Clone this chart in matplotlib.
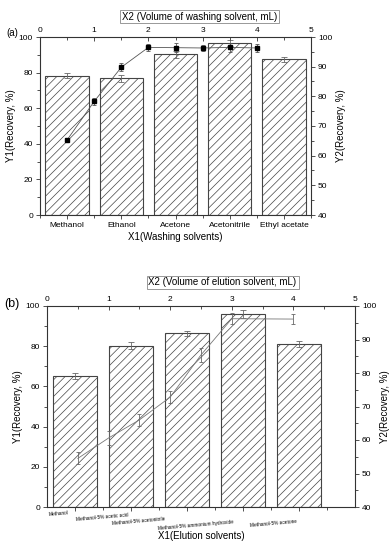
import matplotlib
matplotlib.use('Agg')
import matplotlib.pyplot as plt
from matplotlib.ticker import MultipleLocator
import numpy as np

plt.rcParams['font.family'] = ['Liberation Sans', 'DejaVu Sans']
plt.rcParams['hatch.linewidth'] = 0.5

# panel (a) data
solvents_a = ['Methanol', 'Ethanol', 'Acetone', 'Acetonitrile', 'Ethyl acetate']
y1_a = [78.3, 76.8, 90.2, 96.7, 87.5]
y1_err_a = [1.5, 1.8, 1.8, 1.6, 1.5]
x2_a = [0.5, 1.0, 1.5, 2.0, 2.5, 3.0, 3.5, 4.0]
y2_a = [65.3, 78.3, 89.8, 96.5, 96.4, 96.3, 96.5, 96.3]
y2_err_a = [0.4, 1.2, 1.3, 1.3, 1.5, 1.0, 1.5, 1.3]

# panel (b) data
solvents_b = ['Methanol', 'Methanol-5% acetic acid', 'Methanol-5% acetonitrile',
              'Methanol-5% ammonium hydroxide', 'Methanol-5% acetone']
y1_b = [65.3, 80.3, 86.4, 96.0, 81.0]
y1_err_b = [1.6, 1.6, 1.3, 1.8, 1.6]
x2_b = [0.5, 1.0, 1.5, 2.0, 2.5, 3.0, 4.0]
y2_b = [54.5, 60.6, 66.0, 72.8, 85.4, 96.2, 96.1]
y2_err_b = [1.8, 2.0, 1.8, 1.8, 2.0, 1.6, 1.6]

edge = '#444444'
tick_fs = 6
lab_fs = 7


def style_axes(ax, ax2):
    ax.set_ylim(0, 100)
    ax.yaxis.set_major_locator(MultipleLocator(20))
    ax.yaxis.set_minor_locator(MultipleLocator(10))
    ax.tick_params(axis='both', which='both', direction='out', labelsize=tick_fs,
                   width=0.6, pad=2, color='#333333')
    ax.tick_params(which='major', length=3)
    ax.tick_params(which='minor', length=2)
    ax2.set_xlim(0, 5)
    ax2.set_ylim(40, 100)
    ax2.xaxis.set_major_locator(MultipleLocator(1))
    ax2.xaxis.set_minor_locator(MultipleLocator(0.5))
    ax2.yaxis.set_major_locator(MultipleLocator(10))
    ax2.yaxis.set_minor_locator(MultipleLocator(5))
    ax2.xaxis.tick_top()
    ax2.yaxis.tick_right()
    ax2.yaxis.set_label_position('right')
    ax2.tick_params(axis='x', which='both', direction='in', labelsize=tick_fs,
                    width=0.6, pad=2, color='#333333')
    ax2.tick_params(axis='y', which='both', direction='out', labelsize=tick_fs,
                    width=0.6, pad=2, color='#333333')
    ax2.tick_params(which='major', length=3)
    ax2.tick_params(which='minor', length=2)
    for s in ax.spines.values():
        s.set_linewidth(0.8)
        s.set_color('#333333')
    ax.set_ylabel('Y1(Recovery, %)', fontsize=lab_fs, labelpad=2)
    ax2.set_ylabel('Y2(Recovery, %)', fontsize=lab_fs, labelpad=3)


fig = plt.figure(figsize=(3.92, 5.5), dpi=100)

# ---- panel (a)
ax = fig.add_axes([40/392, 1-215/550, 271/392, 178/550])
ax2 = fig.add_axes(ax.get_position(), frameon=False)
xa = np.arange(len(solvents_a))
ax.bar(xa, y1_a, width=0.8, color='white', edgecolor=edge, linewidth=0.8,
       hatch='////', zorder=1)
ax.errorbar(xa, y1_a, yerr=y1_err_a, fmt='none', ecolor='#666666',
            elinewidth=0.6, capsize=2, capthick=0.6, zorder=2)
ax.set_xlim(-0.5, 4.5)
ax.set_xticks(xa)
ax.set_xticklabels(solvents_a)
ax.set_xticks(np.arange(-0.5, 5, 1), minor=True)
ax.set_xlabel('X1(Washing solvents)', fontsize=lab_fs, labelpad=2)
ax2.errorbar(x2_a, y2_a, yerr=y2_err_a, color='#555555', lw=0.6, marker='s',
             markersize=3.3, mfc='black', mec='black', ecolor='#555555',
             elinewidth=0.6, capsize=1.5, capthick=0.6)
style_axes(ax, ax2)
ax.text(0.59, 1.115, 'X2 (Volume of washing solvent, mL)', transform=ax.transAxes,
        ha='center', va='center', fontsize=lab_fs,
        bbox=dict(boxstyle='square,pad=0.2', fc='white', ec='#888888', lw=0.6))
fig.text(6/392, 1-33/550, '(a)', fontsize=7, va='center')

# ---- panel (b)
bx = fig.add_axes([47/392, 1-507/550, 308/392, 201/550])
bx2 = fig.add_axes(bx.get_position(), frameon=False)
xb = np.arange(len(solvents_b))
bx.bar(xb, y1_b, width=0.8, color='white', edgecolor=edge, linewidth=0.8,
       hatch='////', zorder=1)
bx.errorbar(xb, y1_b, yerr=y1_err_b, fmt='none', ecolor='#666666',
            elinewidth=0.6, capsize=2, capthick=0.6, zorder=2)
bx.set_xlim(-0.5, 5.0)
bx.set_xticks(xb)
bx.set_xticklabels([])
bx.set_xticks(np.arange(0.5, 5, 1), minor=True)
# staggered tiny category labels
offs = [(-7, 6), (-3, 8), (-22, 12), (-10, 15), (-2, 14)]
for i, (lab, (dx, dy)) in enumerate(zip(solvents_b, offs)):
    bx.annotate(lab, xy=(xb[i], 0), xycoords=('data', 'axes fraction'),
                xytext=(dx, -dy), textcoords='offset pixels', ha='right',
                va='center', rotation=5, rotation_mode='anchor', fontsize=3.4)
bx.set_xlabel('X1(Elution solvents)', fontsize=lab_fs)
bx.xaxis.set_label_coords(0.5, -24/201)
bx2.errorbar(x2_b, y2_b, yerr=y2_err_b, color='#777777', lw=0.6,
             ecolor='#666666', elinewidth=0.6, capsize=1.5, capthick=0.6)
style_axes(bx, bx2)
bx.text(0.57, 1.117, 'X2 (Volume of elution solvent, mL)', transform=bx.transAxes,
        ha='center', va='center', fontsize=lab_fs,
        bbox=dict(boxstyle='square,pad=0.2', fc='white', ec='#888888', lw=0.6))
fig.text(4/392, 1-304/550, '(b)', fontsize=9, va='center')

fig.savefig('out.png', dpi=100)
